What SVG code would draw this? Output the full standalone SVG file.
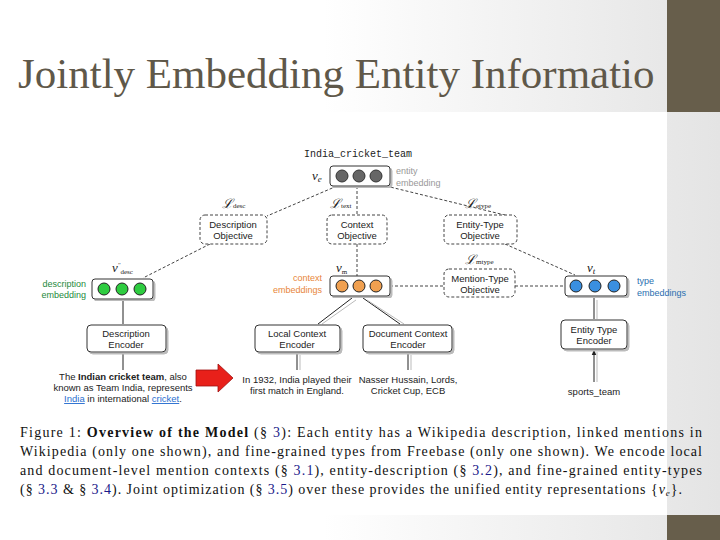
<svg xmlns="http://www.w3.org/2000/svg" width="720" height="540" viewBox="0 0 720 540">
<defs>
<linearGradient id="bg" x1="0" y1="0" x2="1" y2="0">
<stop offset="0.45" stop-color="#ffffff"/><stop offset="1" stop-color="#e4e4e4"/>
</linearGradient>
<marker id="ar" viewBox="0 0 10 10" refX="9" refY="5" markerWidth="6" markerHeight="6" orient="auto"><path d="M0,1 L10,5 L0,9 z" fill="#222"/></marker>
<filter id="sh"><feDropShadow dx="2" dy="2" stdDeviation="0.6" flood-color="#bbb"/></filter>
</defs>
<style>
.s{font-family:"Liberation Sans",Arial,sans-serif;font-size:9.5px;fill:#222;text-anchor:middle}
.m{font-family:"Liberation Serif",serif;font-style:italic;font-size:13px;fill:#222}
.ob{fill:#fff;stroke:#444;stroke-width:1;stroke-dasharray:3,2}
.enc{fill:#fff;stroke:#333;stroke-width:1;filter:url(#sh)}
.emb{fill:#fff;stroke:#333;stroke-width:1;filter:url(#sh)}
.dl{stroke:#444;stroke-width:1;stroke-dasharray:3,2;fill:none}
.al{stroke:#222;stroke-width:1;fill:none;marker-end:url(#ar)}
.cap{font-family:"Liberation Serif",serif;font-size:14px;fill:#111}
.b{fill:#1a1a8a}
</style>
<rect width="720" height="540" fill="url(#bg)"/>
<rect x="0" y="112" width="667" height="403" fill="#fff"/>
<rect x="667" y="515" width="53" height="25" fill="#675e4b"/>
<rect x="667" y="0" width="53" height="112" fill="#675e4b"/>
<text x="18" y="88" font-family="Liberation Serif,serif" font-size="43" fill="#5f5849">Jointly Embedding Entity Informatio</text>

<g id="connectors">
<path class="dl" d="M337,186 L267,216 M357,186 L357,215 M386,186 L517,218 M210,244 L143,278 M357,244 L357,276 M505,244 L575,275 M390,286 L444,286 M515,286 L565,286"/>
<path class="al" d="M123,324 L123,301 M123,370 L123,353 M318,324 L352,298 M400,324 L363,298 M297,370 L297,353 M408,370 L408,353 M594,319 L594,298 M594,382 L594,350"/>
<path d="M322,324 L356,300 M404,324 L367,300 M300,370 L300,355 M411,370 L411,355 M597,319 L597,300 M597,382 L597,352" stroke="#bbb" stroke-width="1" fill="none"/>
</g>

<g id="entity">
<text x="358" y="157" font-family="Liberation Mono,monospace" font-size="10" fill="#222" text-anchor="middle">India_cricket_team</text>
<rect class="emb" x="330" y="166" width="60" height="20" rx="3"/>
<circle cx="342" cy="176" r="6" fill="#666" stroke="#333"/><circle cx="359" cy="176" r="6" fill="#666" stroke="#333"/><circle cx="376" cy="176" r="6" fill="#666" stroke="#333"/>
<text class="m" x="312" y="180">v<tspan font-size="9" dy="2">e</tspan></text>
<text x="396" y="174" font-family="Liberation Sans,sans-serif" font-size="9" fill="#999">entity</text>
<text x="396" y="186" font-family="Liberation Sans,sans-serif" font-size="9" fill="#999">embedding</text>
</g>
<g id="desc-obj">
<text class="m" x="222" y="208">ℒ<tspan font-size="7" font-style="normal">desc</tspan></text>
<rect class="ob" x="200" y="215" width="67" height="29" rx="5"/>
<text class="s" x="233" y="228">Description</text><text class="s" x="233" y="239">Objective</text>
</g>
<g id="ctx-obj">
<text class="m" x="330" y="208">ℒ<tspan font-size="7" font-style="normal">text</tspan></text>
<rect class="ob" x="327" y="215" width="60" height="29" rx="5"/>
<text class="s" x="357" y="228">Context</text><text class="s" x="357" y="239">Objective</text>
</g>
<g id="etype-obj">
<text class="m" x="465" y="208">ℒ<tspan font-size="7" font-style="normal">etype</tspan></text>
<rect class="ob" x="444" y="215" width="73" height="29" rx="5"/>
<text class="s" x="480" y="228">Entity-Type</text><text class="s" x="480" y="239">Objective</text>
</g>
<g id="mtype-obj">
<text class="m" x="465" y="264">ℒ<tspan font-size="7" font-style="normal">mtype</tspan></text>
<rect class="ob" x="444" y="269" width="71" height="28" rx="5"/>
<text class="s" x="480" y="282">Mention-Type</text><text class="s" x="480" y="293">Objective</text>
</g>
<g id="desc-emb">
<text class="m" x="112" y="272">v<tspan font-size="6" dy="-5">′′</tspan><tspan font-size="7" font-style="normal" dy="7">desc</tspan></text>
<rect class="emb" x="92" y="279" width="61" height="20" rx="3"/>
<circle cx="104" cy="289" r="6" fill="#2ecc40" stroke="#222"/><circle cx="122" cy="289" r="6" fill="#2ecc40" stroke="#222"/><circle cx="140" cy="289" r="6" fill="#2ecc40" stroke="#222"/>
<text x="86" y="287" font-family="Liberation Sans,sans-serif" font-size="9" fill="#1e8a3c" text-anchor="end">description</text>
<text x="86" y="298" font-family="Liberation Sans,sans-serif" font-size="9" fill="#1e8a3c" text-anchor="end">embedding</text>
</g>
<g id="ctx-emb">
<text class="m" x="336" y="272">v<tspan font-size="7" font-style="normal" dy="2">m</tspan></text>
<rect class="emb" x="330" y="276" width="60" height="20" rx="3"/>
<circle cx="342" cy="286" r="6" fill="#f0a050" stroke="#222"/><circle cx="359" cy="286" r="6" fill="#f0a050" stroke="#222"/><circle cx="376" cy="286" r="6" fill="#f0a050" stroke="#222"/>
<text x="322" y="281" font-family="Liberation Sans,sans-serif" font-size="9" fill="#e8863a" text-anchor="end">context</text>
<text x="322" y="293" font-family="Liberation Sans,sans-serif" font-size="9" fill="#e8863a" text-anchor="end">embeddings</text>
</g>
<g id="type-emb">
<text class="m" x="587" y="272">v<tspan font-size="9" dy="2">t</tspan></text>
<rect class="emb" x="565" y="276" width="62" height="20" rx="3"/>
<circle cx="576" cy="286" r="6" fill="#3a8fe0" stroke="#222"/><circle cx="595" cy="286" r="6" fill="#3a8fe0" stroke="#222"/><circle cx="614" cy="286" r="6" fill="#3a8fe0" stroke="#222"/>
<text x="637" y="284" font-family="Liberation Sans,sans-serif" font-size="9" fill="#2a6fb0">type</text>
<text x="637" y="296" font-family="Liberation Sans,sans-serif" font-size="9" fill="#2a6fb0">embeddings</text>
</g>
<g id="desc-enc">
<rect class="enc" x="87" y="325" width="79" height="27" rx="4"/>
<text class="s" x="126" y="337">Description</text><text class="s" x="126" y="348">Encoder</text>
</g>
<g id="local-enc">
<rect class="enc" x="255" y="325" width="85" height="27" rx="4"/>
<text class="s" x="297" y="337">Local Context</text><text class="s" x="297" y="348">Encoder</text>
</g>
<g id="doc-enc">
<rect class="enc" x="363" y="325" width="89" height="27" rx="4"/>
<text class="s" x="408" y="337">Document Context</text><text class="s" x="408" y="348">Encoder</text>
</g>
<g id="type-enc">
<rect class="enc" x="561" y="320" width="66" height="29" rx="4"/>
<text class="s" x="594" y="333">Entity Type</text><text class="s" x="594" y="344">Encoder</text>
</g>
<g id="inputs">
<text class="s" x="123" y="380">The <tspan font-weight="bold">Indian cricket team</tspan>, also</text>
<text class="s" x="123" y="391">known as Team India, represents</text>
<text class="s" x="123" y="402"><tspan fill="#2a6fd0" text-decoration="underline">India</tspan> in international <tspan fill="#2a6fd0" text-decoration="underline">cricket</tspan>.</text>
<path d="M196,370 L218,370 L218,364 L233,378 L218,392 L218,386 L196,386 z" fill="#e8201a" stroke="#a01010" stroke-width="0.8"/>
<text class="s" x="297" y="383">In 1932, India played their</text>
<text class="s" x="297" y="394">first match in England.</text>
<text class="s" x="408" y="383">Nasser Hussain, Lords,</text>
<text class="s" x="408" y="394">Cricket Cup, ECB</text>
<text class="s" x="594" y="395">sports_team</text>
</g>
<g id="caption">
<text class="cap" x="20" y="437" textLength="682" lengthAdjust="spacing">Figure 1: <tspan font-weight="bold">Overview of the Model</tspan> (§ <tspan class="b">3</tspan>): Each entity has a Wikipedia description, linked mentions in</text>
<text class="cap" x="20" y="456" textLength="682" lengthAdjust="spacing">Wikipedia (only one shown), and fine-grained types from Freebase (only one shown). We encode local</text>
<text class="cap" x="20" y="475" textLength="682" lengthAdjust="spacing">and document-level mention contexts (§ <tspan class="b">3.1</tspan>), entity-description (§ <tspan class="b">3.2</tspan>), and fine-grained entity-types</text>
<text class="cap" x="20" y="494" textLength="662" lengthAdjust="spacing">(§ <tspan class="b">3.3</tspan> &amp; § <tspan class="b">3.4</tspan>). Joint optimization (§ <tspan class="b">3.5</tspan>) over these provides the unified entity representations {<tspan font-style="italic">v<tspan font-size="9" dy="2">e</tspan></tspan><tspan dy="-2">}.</tspan></text>
</g>
</svg>
